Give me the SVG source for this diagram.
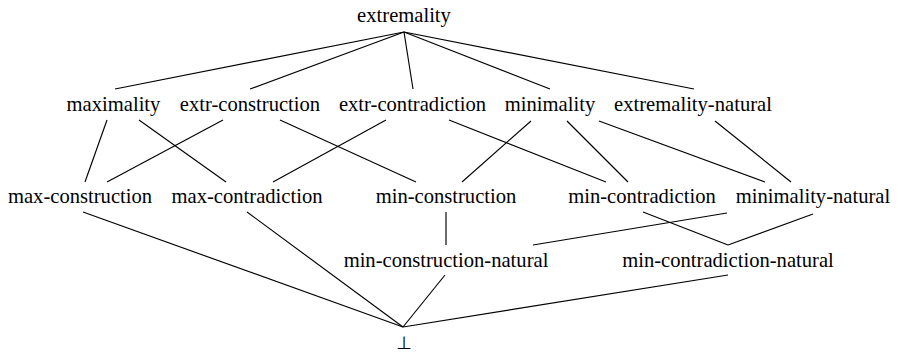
<svg xmlns="http://www.w3.org/2000/svg" width="898" height="354" viewBox="0 0 898 354">
<style>
  text.n { font-family: 'Liberation Serif', 'Tinos', 'Times New Roman', 'DejaVu Serif', serif; font-size: 20.6px; fill: #000000; text-anchor: middle; }
  text.bot { font-family: 'DejaVu Sans', 'DejaVu Serif', sans-serif; font-size: 18px; fill: #000000; text-anchor: middle; }
  .e line { stroke: #000; stroke-width: 1.15; fill: none; }
</style>
<rect width="898" height="354" fill="#fff"/>
<g id="connectors" class="e">
  <line x1="404" y1="32" x2="115" y2="89"/>
  <line x1="404" y1="32" x2="250" y2="89"/>
  <line x1="404" y1="32" x2="413" y2="89"/>
  <line x1="404" y1="32" x2="550" y2="89"/>
  <line x1="404" y1="32" x2="694" y2="89"/>
  <line x1="107" y1="120" x2="85" y2="182"/>
  <line x1="139" y1="120" x2="226" y2="182"/>
  <line x1="223" y1="120" x2="107" y2="182"/>
  <line x1="280" y1="120" x2="416" y2="182"/>
  <line x1="386" y1="120" x2="273" y2="182"/>
  <line x1="449" y1="120" x2="606" y2="182"/>
  <line x1="531" y1="121" x2="462" y2="182"/>
  <line x1="567" y1="121" x2="628" y2="182"/>
  <line x1="599" y1="121" x2="765" y2="182"/>
  <line x1="715" y1="121" x2="791" y2="182"/>
  <line x1="83" y1="212" x2="403" y2="327"/>
  <line x1="247" y1="212" x2="403" y2="327"/>
  <line x1="446" y1="212" x2="446" y2="245"/>
  <line x1="727" y1="213" x2="533" y2="245"/>
  <line x1="643" y1="212" x2="728" y2="245"/>
  <line x1="813" y1="214" x2="728" y2="245"/>
  <line x1="445" y1="275" x2="403" y2="327"/>
  <line x1="728" y1="275" x2="403" y2="327"/>
</g>
<g id="extremality"><text class="n" font-family="Liberation Serif, serif" x="404" y="22">extremality</text></g>
<g id="maximality"><text class="n" font-family="Liberation Serif, serif" x="113.5" y="111">maximality</text></g>
<g id="extr-construction"><text class="n" font-family="Liberation Serif, serif" x="250" y="111">extr-construction</text></g>
<g id="extr-contradiction"><text class="n" font-family="Liberation Serif, serif" x="412.5" y="111">extr-contradiction</text></g>
<g id="minimality"><text class="n" font-family="Liberation Serif, serif" x="550" y="111">minimality</text></g>
<g id="extremality-natural"><text class="n" font-family="Liberation Serif, serif" x="693" y="111">extremality-natural</text></g>
<g id="max-construction"><text class="n" font-family="Liberation Serif, serif" x="80" y="203">max-construction</text></g>
<g id="max-contradiction"><text class="n" font-family="Liberation Serif, serif" x="247" y="203">max-contradiction</text></g>
<g id="min-construction"><text class="n" font-family="Liberation Serif, serif" x="446" y="203">min-construction</text></g>
<g id="min-contradiction"><text class="n" font-family="Liberation Serif, serif" x="642" y="203">min-contradiction</text></g>
<g id="minimality-natural"><text class="n" font-family="Liberation Serif, serif" x="813" y="203">minimality-natural</text></g>
<g id="min-construction-natural"><text class="n" font-family="Liberation Serif, serif" x="446" y="267">min-construction-natural</text></g>
<g id="min-contradiction-natural"><text class="n" font-family="Liberation Serif, serif" x="728" y="267">min-contradiction-natural</text></g>
<g id="bottom"><text class="bot" fill="#000000" x="404" y="349">⊥</text></g>
</svg>
